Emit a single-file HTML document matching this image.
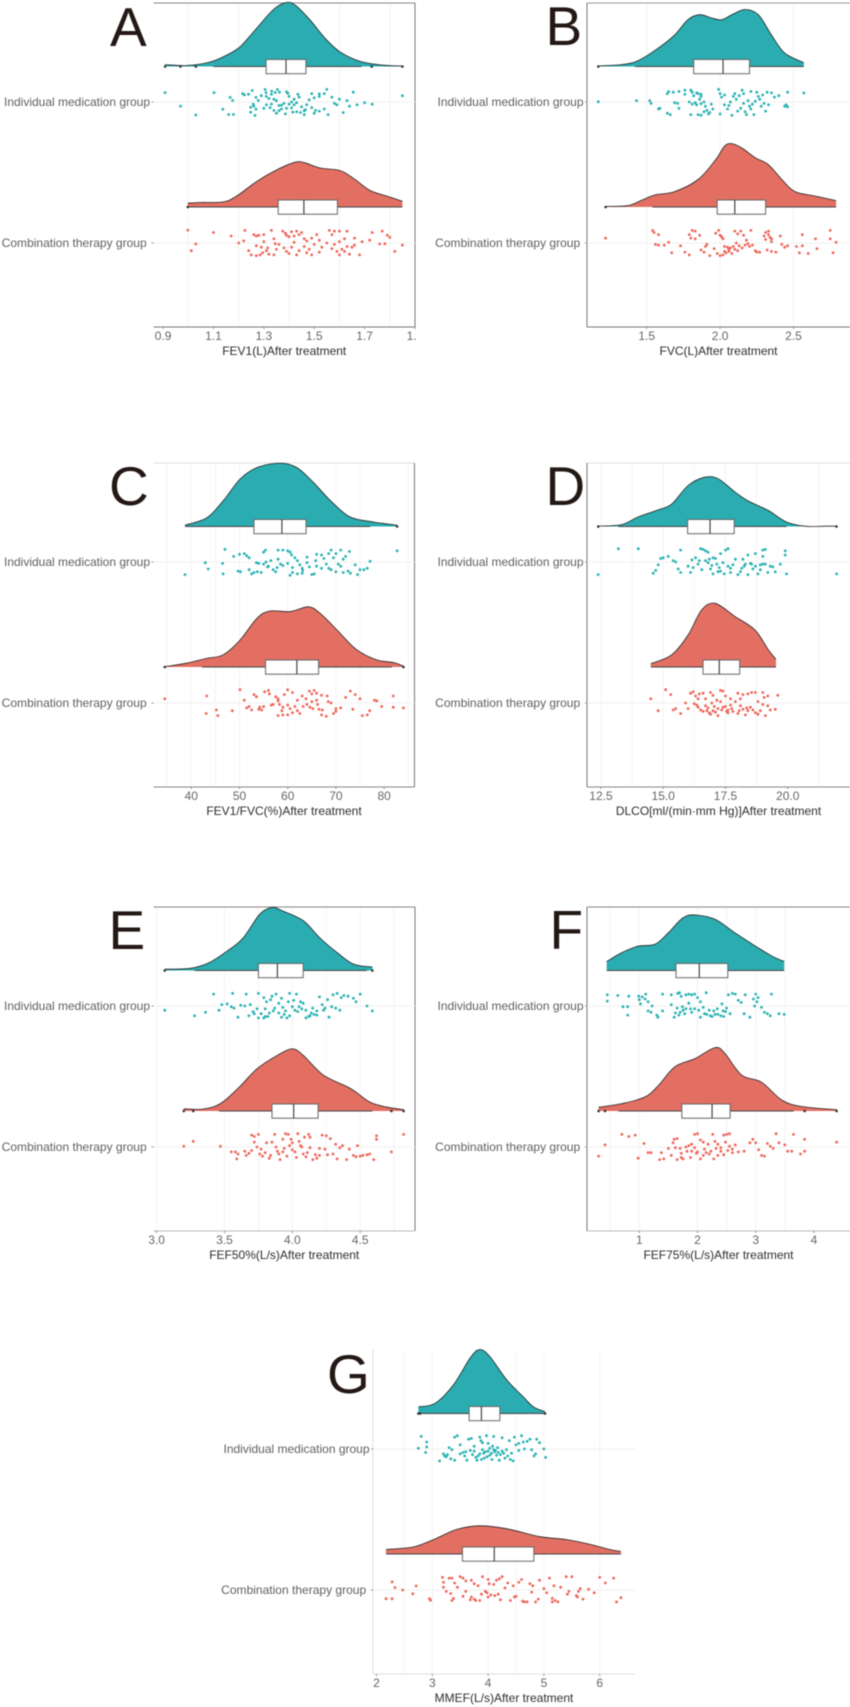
<!DOCTYPE html>
<html lang="en">
<head>
<meta charset="utf-8">
<title>Raincloud plots of lung function after treatment</title>
<style>
  html,body{margin:0;padding:0;background:#fff;width:850px;height:1707px;overflow:hidden}
  #figure{display:block;filter:blur(.4px)}
  text{font-family:"Liberation Sans",sans-serif}
</style>
</head>
<body>
<svg id="figure" xmlns="http://www.w3.org/2000/svg" width="850" height="1707" viewBox="0 0 850 1707"></svg>
<script>
/* ---------- shared category labels ---------- */
const categories = ['Individual medication group','Combination therapy group'];

/* ---------- Panel A ---------- */
const aTicks=[0.9,1.1,1.3,1.5,1.7,1.9];
const aTickLabels=['0.9','1.1','1.3','1.5','1.7','1.9'];
const aGrid=[1.0,1.2,1.4,1.6,1.8];
const aTealDensX=[.908,.994,1.087,1.153,1.206,1.272,1.338,1.388,1.424,1.483,1.543,1.602,1.682,1.775,1.85];
const aTealDens=[.03,.015,.07,.18,.31,.60,.89,1.0,.96,.73,.44,.23,.08,.02,.01];
const aRedDensX=[.998,1.047,1.139,1.192,1.272,1.351,1.424,1.463,1.523,1.602,1.655,1.721,1.788,1.85];
const aRedDens=[.06,.07,.08,.17,.40,.58,.70,.69,.61,.57,.45,.26,.17,.09];
const aTealBox=[1.309,1.388,1.467], aTealWhisk=[1.10,1.688], aTealOut=[.908,.969,1.03,1.728,1.85];
const aRedBox=[1.357,1.459,1.592], aRedWhisk=[1.0,1.85], aRedOut=[.998];
const aTealPts=[[.908,-.67],[.969,.29],[1.03,.93],[1.102,-.67],[1.137,.51],[1.16,.89],[1.179,.89],[1.166,-.33],[1.176,-.11],[1.216,-.6],[1.223,-.51],[1.239,-.56],[1.254,-.82],[1.248,.38],[1.248,.73],[1.265,.96],[1.269,-.33],[1.258,.16],[1.269,.51],[1.278,-.11],[1.305,-.89],[1.309,-.67],[1.331,-.78],[1.354,-.89],[1.362,-.7],[1.31,-.4],[1.32,-.25],[1.35,-.1],[1.31,.2],[1.33,.15],[1.36,.25],[1.38,.1],[1.3,.45],[1.35,.8],[1.385,.85],[1.34,.6],[1.37,.5],[1.39,-.73],[1.395,-.62],[1.40,-.4],[1.42,-.2],[1.435,-.55],[1.44,-.35],[1.41,.0],[1.42,.2],[1.39,.45],[1.43,.7],[1.445,.75],[1.46,.9],[1.465,.55],[1.47,.2],[1.49,-.6],[1.50,-.3],[1.52,-.58],[1.52,-.4],[1.49,.4],[1.505,.6],[1.50,.8],[1.52,.65],[1.54,.5],[1.55,-.9],[1.54,-.6],[1.57,-.35],[1.58,.1],[1.555,.9],[1.59,.2],[1.60,-.2],[1.615,.75],[1.63,-.1],[1.64,.3],[1.655,-.7],[1.67,.2],[1.70,.05],[1.73,.16],[1.85,-.45],[1.33,-.55],[1.345,-.68],[1.37,.22],[1.41,.42],[1.46,.62],[1.29,-.45],[1.34,-.2],[1.4,.15],[1.43,.05],[1.45,.35],[1.48,-.15],[1.36,.62],[1.26,.3],[1.415,.72],[1.325,.4]];
const aRedPts=[[.998,-.92],[1.012,.55],[1.03,.07],[1.10,-.75],[1.17,-.5],[1.20,.0],[1.225,-.9],[1.22,-.15],[1.24,.55],[1.26,-.6],[1.27,-.5],[1.28,-.55],[1.30,-.6],[1.33,-.9],[1.25,.85],[1.27,.9],[1.285,.85],[1.29,.3],[1.295,.7],[1.27,.2],[1.315,.35],[1.32,.8],[1.34,.85],[1.345,.05],[1.36,.1],[1.375,-.85],[1.385,-.7],[1.39,-.55],[1.40,-.45],[1.41,-.8],[1.43,-.85],[1.44,-.6],[1.42,-.5],[1.46,-.3],[1.47,-.15],[1.49,-.35],[1.51,-.6],[1.52,-.2],[1.39,.6],[1.40,.75],[1.41,.3],[1.43,.85],[1.44,.55],[1.47,.7],[1.49,.85],[1.52,.65],[1.53,.3],[1.56,-.9],[1.58,-.85],[1.57,-.6],[1.60,-.85],[1.63,-.85],[1.55,.0],[1.58,.1],[1.60,-.1],[1.62,-.3],[1.66,-.35],[1.61,.45],[1.63,.25],[1.64,.8],[1.60,.85],[1.62,.6],[1.66,.15],[1.68,.85],[1.69,-.1],[1.72,-.2],[1.73,-.75],[1.76,.07],[1.78,.05],[1.77,-.85],[1.79,-.55],[1.80,-.4],[1.82,.6],[1.85,.15],[1.46,.25],[1.35,.45],[1.31,.55],[1.38,.35],[1.42,-.05],[1.45,-.75],[1.5,.1],[1.59,.6],[1.65,.3],[1.3,-.1],[1.34,-.3],[1.48,.45],[1.57,.4]];

/* ---------- Panel B ---------- */
const bTicks=[1.5,2.0,2.5];
const bTickLabels=['1.5','2.0','2.5'];
const bGrid=[1.5,2.0,2.5];
const bTealDensX=[1.17,1.33,1.44,1.58,1.69,1.78,1.86,1.94,2.01,2.09,2.17,2.26,2.35,2.44,2.57];
const bTealDens=[.01,.03,.09,.29,.49,.73,.81,.76,.73,.82,.89,.81,.49,.21,.06];
const bRedDensX=[1.22,1.37,1.47,1.56,1.69,1.85,1.97,2.03,2.08,2.15,2.24,2.33,2.42,2.51,2.65,2.79];
const bRedDens=[.01,.02,.11,.19,.24,.43,.74,.95,.99,.92,.77,.66,.43,.24,.17,.10];
const bTealBox=[1.82,2.02,2.20], bTealWhisk=[1.42,2.57], bTealOut=[1.17];
const bRedBox=[1.98,2.10,2.31], bRedWhisk=[1.54,2.79], bRedOut=[1.22];
const bTealPts=[[1.17,-.02],[1.43,-.1],[1.52,-.1],[1.53,.1],[1.58,.5],[1.59,.45],[1.64,.8],[1.66,.9],[1.64,-.6],[1.65,-.75],[1.68,-.7],[1.72,-.75],[1.76,-.85],[1.76,-.55],[1.69,.05],[1.71,.1],[1.72,.45],[1.80,-.85],[1.81,-.7],[1.82,-.45],[1.84,-.65],[1.85,-.6],[1.87,-.55],[1.87,-.4],[1.79,.0],[1.81,.15],[1.84,.2],[1.87,.12],[1.89,.0],[1.90,.3],[1.80,.9],[1.85,.9],[1.87,.95],[1.92,.85],[1.93,.75],[1.91,.6],[1.95,.5],[1.99,-.9],[2.0,-.6],[2.01,-.35],[2.03,-.5],[2.0,.85],[2.03,.2],[2.05,.5],[2.07,.0],[2.09,-.4],[2.11,-.2],[2.13,-.45],[2.15,-.85],[2.10,-.6],[2.08,.95],[2.14,.45],[2.16,.1],[2.19,-.1],[2.2,.3],[2.17,.7],[2.21,.5],[2.18,.9],[2.21,-.75],[2.25,-.7],[2.27,-.2],[2.29,-.5],[2.3,.1],[2.31,.65],[2.33,.2],[2.32,-.7],[2.35,-.65],[2.37,-.35],[2.40,-.45],[2.44,.3],[2.46,.35],[2.46,-.7],[2.45,.2],[2.57,-.65],[2.23,.9],[2.24,-.05],[1.83,.05],[1.86,-.2],[1.89,.7],[1.94,.15],[2.06,.25],[2.12,.65],[2.16,-.6],[2.22,.15],[2.28,.3],[2.26,-.4]];
const bRedPts=[[1.22,-.35],[1.54,-.9],[1.55,-.75],[1.58,-.6],[1.56,.1],[1.58,.15],[1.62,.15],[1.67,.7],[1.65,-.05],[1.73,.2],[1.76,.65],[1.79,.85],[1.79,-.6],[1.81,-.9],[1.83,-.85],[1.80,-.35],[1.83,-.3],[1.86,-.55],[1.87,.5],[1.91,.1],[1.90,.25],[1.89,.65],[1.93,.9],[1.97,-.7],[1.99,-.9],[2.0,-.55],[2.01,-.45],[2.02,-.3],[2.0,.9],[2.02,.85],[2.03,.25],[2.05,.3],[2.06,.6],[2.08,.75],[2.1,-.85],[2.12,-.65],[2.14,-.85],[2.16,-.55],[2.18,-.2],[2.11,.0],[2.13,.2],[2.15,.35],[2.19,.05],[2.22,.15],[2.21,-.9],[2.24,.55],[2.25,.65],[2.27,.65],[2.06,.45],[2.09,.25],[2.12,.55],[2.31,-.75],[2.33,-.85],[2.33,-.6],[2.31,-.25],[2.35,-.3],[2.35,-.1],[2.32,.5],[2.35,.6],[2.38,.65],[2.42,.1],[2.44,.3],[2.41,-.5],[2.46,.2],[2.52,.25],[2.54,.7],[2.56,-.6],[2.56,.2],[2.6,.75],[2.65,-.3],[2.66,.4],[2.75,-.9],[2.75,-.3],[2.77,.7],[2.79,-.05],[1.96,.4],[2.04,.7],[2.07,.35],[2.1,.45],[2.17,.15],[2.2,.25],[2.3,-.5],[2.34,-.4],[2.03,.6],[1.98,.75]];

/* ---------- Panel C ---------- */
const cTicks=[40,50,60,70,80];
const cTickLabels=['40','50','60','70','80'];
const cGrid=[35,40,45,50,60,70,75,85];
const cTealDensX=[38.7,43.2,46.6,50.1,53.6,58.4,61.9,65.3,68.8,72.9,77.8,82.7];
const cTealDens=[.02,.135,.40,.74,.92,.99,.92,.69,.41,.15,.07,.02];
const cRedDensX=[34.5,39,43.2,46.6,50.1,53.6,56.3,60.5,64.3,66.7,70.2,74.3,78.5,81.9,84];
const cRedDens=[.005,.06,.135,.19,.42,.76,.875,.865,.94,.84,.58,.27,.11,.07,.015];
const cTealBox=[53,58.8,63.8], cTealWhisk=[38.7,77.1], cTealOut=[82.7];
const cRedBox=[55.4,61.9,66.4], cRedWhisk=[42.2,81.6], cRedOut=[34.5,84];
const cTealPts=[[38.7,.9],[42.9,.05],[43.5,.5],[46.5,.1],[46.6,.85],[47,-.9],[48.8,-.4],[50,-.55],[49.7,.65],[50.2,.7],[51,-.6],[51.5,-.45],[52,-.3],[52.5,.85],[53,.75],[53.7,.7],[54.5,.75],[55,-.7],[55.4,-.85],[53.5,.05],[55.5,.0],[56.5,-.1],[57,.55],[57.5,.7],[58,-.85],[59,-.85],[60,-.8],[60.5,-.7],[60.8,-.5],[61.5,-.3],[59,.25],[60,.1],[61,.4],[62,.85],[62.5,.2],[63.1,.6],[64,.05],[65,.9],[65.5,.85],[65.8,-.1],[66,.3],[67,-.5],[67.5,-.25],[68,.15],[69,-.85],[70,-.6],[71,-.85],[72,-.4],[72.8,-.75],[71,.3],[73,.8],[74,.2],[75,.55],[74.5,.9],[71.5,-.2],[70.5,.15],[69.5,-.3],[68.5,-.6],[77.1,-.05],[76.5,.45],[75.8,.55],[82.7,-.8],[57.8,.4],[58.5,.15],[63,.45],[64.5,.35],[69,.55],[68.5,.45],[70,.7],[71.5,.75],[72.5,.65],[55.8,.35],[52,.55],[60.5,.95],[54,.1],[55,.15],[56,.3],[58,-.2],[62,-.1],[64,-.35],[66,-.55],[67,.45],[63,.8],[61,.75]];
const cRedPts=[[34.5,-.3],[43.2,-.5],[43.1,.75],[45.2,.5],[45.5,.9],[48.5,.55],[50.1,-.95],[51,-.2],[51.5,.35],[52.5,.5],[53,-.6],[53.5,-.45],[54,.45],[54.6,.5],[55.2,-.8],[56,-.9],[57.5,-.45],[58,-.3],[58.3,.1],[59,.3],[60,-.95],[61,-.75],[58,.9],[59,.85],[60,.85],[61,.7],[62,.55],[63.2,.25],[64,.1],[64.5,-.85],[65.5,-.9],[66,-.2],[66.5,.45],[67,.85],[68,.95],[69.5,.75],[70,.6],[71,.35],[72,-.4],[73,-.85],[74,-.6],[75,-.3],[75.5,.9],[76.5,.85],[77,.55],[78,-.2],[78.5,-.15],[79.5,.25],[73.5,.45],[81.9,.3],[81.9,-.5],[84,.35],[70,.4],[69,.0],[68.2,-.5],[67,-.55],[66,-.7],[65,-.65],[63,-.5],[62.5,.75],[61.5,.25],[60.5,.4],[59.3,-.6],[58,-.15],[56.6,.15],[55,.25],[54.2,.3],[52,.25],[56.2,-.65],[57,.1],[58.8,.55],[60,.15],[62,-.2],[64.6,.3],[65.2,.4],[66.2,.1],[67.2,.5],[68.4,-.1],[63.8,-.3],[65,-.1]];

/* ---------- Panel D ---------- */
const dTicks=[12.5,15,17.5,20];
const dTickLabels=['12.5','15.0','17.5','20.0'];
const dGrid=[12.5,13.75,15,16.25,17.5,18.75,21.25];
const dTealDensX=[12.39,13.33,14.0,14.8,15.34,16.0,16.67,17.21,17.88,18.41,19.22,19.95,20.69,21.49,21.96];
const dTealDens=[.005,.03,.15,.26,.35,.64,.77,.745,.54,.40,.25,.07,.005,.005,.005];
const dRedDensX=[14.5,15.34,16,16.54,17.08,17.88,18.68,19.22,19.53];
const dRedDens=[.05,.19,.5,.89,.995,.79,.58,.27,.12];
const dTealBox=[15.98,16.88,17.85], dTealWhisk=[13.2,19.95], dTealOut=[12.39,21.96];
const dRedBox=[16.6,17.25,18.07], dRedWhisk=[14.5,19.53], dRedOut=[];
const dTealPts=[[12.39,.9],[13.2,-.95],[14.0,-.95],[14.6,.8],[14.7,.6],[14.8,.2],[14.9,-.25],[15.0,-.3],[15.2,-.4],[15.4,-.1],[15.5,.0],[15.6,.5],[15.7,.75],[15.7,-.85],[16.1,.75],[16.2,.4],[16.4,.15],[16.45,-.1],[16.5,-.95],[16.6,-.9],[16.7,-.8],[16.8,-.7],[16.7,-.1],[16.8,.05],[16.95,.25],[17.0,-.3],[17.1,-.25],[17.2,.7],[17.3,-.6],[17.45,.85],[17.5,-.85],[17.6,-.95],[17.7,.45],[17.8,.2],[17.9,-.2],[18.0,.9],[18.1,.7],[18.15,.45],[18.2,-.2],[18.3,.15],[18.4,-.5],[18.5,.1],[18.6,.5],[18.7,-.6],[18.8,.85],[18.9,.55],[19.0,-.85],[19.1,-.9],[19.2,.75],[19.4,.35],[19.5,.7],[19.7,.15],[19.9,-.5],[19.95,.85],[19.9,-.8],[19.1,.15],[19.0,-.4],[21.96,.85],[16.9,.5],[17.0,.85],[17.3,.65],[17.6,.3],[17.7,.75],[18.4,.9],[19.0,.15],[19.3,.3],[18.9,.2],[16.55,.55],[16.3,-.3],[16.0,.3],[16.15,-.15],[16.85,-.2],[17.15,.15],[17.4,.05],[17.25,.4],[18.25,.3],[18.55,.15],[18.7,.3]];
const dRedPts=[[14.5,-.3],[14.8,.55],[15.1,-.95],[15.3,-.6],[15.5,.4],[15.7,.75],[15.4,.5],[15.9,.0],[16.0,.4],[16.1,-.7],[16.2,-.8],[16.3,-.5],[16.4,-.3],[16.6,-.7],[16.7,-.3],[16.7,.2],[16.8,.35],[16.9,-.75],[16.95,.0],[17.0,.55],[17.1,.65],[17.2,.9],[17.3,-.9],[17.4,-.85],[17.5,-.5],[17.5,.25],[17.6,.7],[17.7,-.3],[17.8,.6],[17.9,-.1],[18.0,-.7],[18.1,.2],[18.2,.45],[18.2,-.6],[18.3,.85],[18.4,-.65],[18.5,.3],[18.6,.5],[18.7,.7],[18.8,-.1],[18.9,.55],[19.0,-.75],[19.1,.9],[19.2,-.5],[19.3,.5],[19.5,.45],[19.6,-.55],[16.4,.3],[16.5,.5],[16.6,.6],[16.9,.8],[17.2,.4],[17.4,.3],[17.6,.5],[18.0,.75],[18.4,.55],[18.55,-.75],[18.7,-.75],[18.8,.8],[19.0,.1],[19.05,-.4],[19.2,.2],[17.0,-.55],[17.15,-.2],[17.3,-.1],[17.7,.15],[18.1,-.3],[16.25,.05],[16.35,.15],[16.45,-.65],[16.75,.55],[16.85,.7],[17.05,.25],[17.35,.5],[17.55,.6],[17.75,.4],[18.05,.55],[18.35,.35]];

/* ---------- Panel E ---------- */
const eTicks=[3.0,3.5,4.0,4.5];
const eTickLabels=['3.0','3.5','4.0','4.5'];
const eGrid=[3.0,3.5,3.75,4.0,4.25,4.5,4.75];
const eTealDensX=[3.06,3.25,3.39,3.54,3.64,3.76,3.85,3.93,4.08,4.2,4.33,4.45,4.59];
const eTealDens=[.02,.035,.125,.335,.515,.88,.985,.93,.78,.515,.28,.10,.055];
const eRedDensX=[3.2,3.34,3.47,3.61,3.74,3.89,4.0,4.08,4.23,4.43,4.57,4.7,4.82];
const eRedDens=[.035,.03,.115,.375,.66,.87,.97,.87,.56,.35,.14,.06,.02];
const eTealBox=[3.75,3.89,4.08], eTealWhisk=[3.28,4.55], eTealOut=[3.06,4.59];
const eRedBox=[3.85,4.01,4.19], eRedWhisk=[3.46,4.59], eRedOut=[3.2,3.27,4.73,4.82];
const eTealPts=[[3.06,.3],[3.28,.7],[3.36,.45],[3.42,-.85],[3.46,.3],[3.48,-.1],[3.52,-.15],[3.55,.05],[3.57,.15],[3.56,-.9],[3.6,.8],[3.62,-.05],[3.66,-.85],[3.65,.0],[3.69,-.1],[3.71,.4],[3.72,.55],[3.75,.85],[3.75,-.9],[3.79,-.6],[3.81,-.3],[3.83,.5],[3.79,.85],[3.8,.75],[3.85,-.7],[3.88,-.85],[3.9,-.2],[3.92,-.55],[3.93,.1],[3.92,.8],[3.96,.85],[3.98,-.9],[4.01,-.4],[4.02,.3],[4.03,-.85],[4.05,.05],[4.07,.2],[4.08,-.2],[4.1,.85],[4.12,.75],[4.14,.5],[4.16,.6],[4.18,.35],[4.2,-.65],[4.22,-.1],[4.24,.15],[4.27,.8],[4.29,.05],[4.3,-.8],[4.33,-.9],[4.36,-.6],[4.35,.3],[4.38,-.75],[4.41,-.7],[4.45,-.55],[4.47,-.3],[4.5,-.85],[4.55,.0],[4.59,.35],[3.94,.6],[4.0,.05],[4.06,-.3],[3.86,.35],[3.74,.2],[3.68,.7],[4.15,.15],[4.23,.3],[3.95,.35],[3.8,.2],[3.9,.5],[3.98,.7],[4.32,.15],[4.13,.7],[3.77,.55],[3.82,.75],[3.84,-.45],[3.87,.15],[3.97,-.3],[4.04,.4],[4.1,.3],[4.18,.65],[4.26,-.45]];
const eRedPts=[[3.2,-.05],[3.27,-.4],[3.47,-.05],[3.55,.35],[3.58,.35],[3.59,.85],[3.65,.3],[3.68,.45],[3.7,-.85],[3.72,-.75],[3.75,-.9],[3.72,-.35],[3.74,.0],[3.76,.5],[3.78,.65],[3.8,.4],[3.83,.8],[3.85,-.35],[3.87,-.9],[3.88,.0],[3.9,.5],[3.91,.9],[3.93,-.55],[3.95,-.95],[3.97,-.9],[3.98,-.1],[4.0,.2],[4.02,.35],[4.04,-.95],[4.05,-.4],[4.06,-.1],[4.08,.5],[4.1,.7],[4.12,-.9],[4.13,-.7],[4.15,.9],[4.18,.8],[4.2,.1],[4.22,-.85],[4.25,-.8],[4.28,-.6],[4.3,.5],[4.32,-.2],[4.33,.85],[4.37,-.1],[4.42,.15],[4.45,.6],[4.47,.7],[4.5,.65],[4.52,.6],[4.55,.55],[4.57,.5],[4.6,.9],[4.62,-.8],[4.73,.35],[4.82,-.9],[4.62,-.55],[3.81,-.3],[3.93,.35],[4.0,-.3],[4.07,.0],[4.13,.05],[4.24,.15],[4.35,.05],[4.4,.9],[4.48,-.1],[3.6,.5],[3.84,.6],[3.96,.65],[3.7,.25],[4.09,-.7],[4.17,.55],[3.99,-.55],[3.66,.6],[3.77,.15],[3.89,.3],[3.94,.1],[4.03,.75],[4.11,.4],[4.2,.6],[4.26,.55]];

/* ---------- Panel F ---------- */
const fTicks=[1,2,3,4];
const fTickLabels=['1','2','3','4'];
const fGrid=[.5,1,2,2.5,3,3.5];
const fTealDensX=[.44,.7,.98,1.27,1.5,1.76,1.99,2.3,2.64,2.99,3.27,3.49];
const fTealDens=[.14,.28,.38,.41,.59,.83,.865,.80,.59,.385,.23,.14];
const fRedDensX=[.3,.7,1.1,1.33,1.61,1.96,2.3,2.47,2.76,3.1,3.45,3.79,4.39];
const fRedDens=[.06,.115,.22,.40,.69,.82,.99,.90,.56,.45,.17,.07,.02];
const fTealBox=[1.63,2.03,2.52], fTealWhisk=[.44,3.49], fTealOut=[];
const fRedBox=[1.73,2.25,2.56], fRedWhisk=[.64,3.65], fRedOut=[.3,.41,3.84,4.39];
const fTealPts=[[.45,-.8],[.45,-.35],[.63,-.75],[.72,.05],[.8,.05],[.8,.65],[.82,-.7],[.99,-.7],[1.0,-.45],[1.02,-.15],[1.05,-.65],[1.11,-.85],[1.1,-.5],[1.15,-.3],[1.15,.35],[1.2,.45],[1.22,.0],[1.3,.65],[1.32,.8],[1.4,-.85],[1.55,-.8],[1.6,.8],[1.55,-.1],[1.66,-.9],[1.69,-.95],[1.72,-.7],[1.65,.15],[1.7,.45],[1.75,.3],[1.8,-.8],[1.85,-.85],[1.9,-.8],[1.95,-.85],[1.85,-.2],[1.8,.2],[1.9,.45],[1.95,.2],[2.0,-.6],[2.05,.8],[2.1,.1],[2.15,-.95],[2.22,.7],[2.25,.75],[2.3,.6],[2.35,.6],[2.4,.7],[2.42,-.15],[2.45,.75],[2.48,.4],[2.53,-.8],[2.6,-.9],[2.65,-.85],[2.7,-.4],[2.75,-.25],[2.8,.55],[2.82,-.8],[2.9,.8],[3.15,.45],[3.2,.55],[3.25,.7],[3.4,.55],[3.49,.6],[3.27,-.85],[3.1,.1],[3.0,-.85],[3.04,-.6],[3.02,-.3],[2.96,-.5],[1.78,.55],[2.12,.55],[2.2,.3],[2.05,-.3],[1.4,.35],[2.5,.15],[2.98,.0],[1.62,.5],[1.68,.65],[1.74,.05],[1.88,.2],[2.02,.3],[2.16,.6],[2.28,.35],[2.34,.2],[2.44,.35],[2.56,.55]];
const fRedPts=[[.3,.65],[.41,-.15],[.7,-.9],[.82,-.75],[.93,-.85],[.98,.8],[1.08,-.25],[1.15,.4],[1.2,.4],[1.35,.9],[1.38,.4],[1.42,.85],[1.5,.1],[1.55,.6],[1.58,-.3],[1.6,-.55],[1.65,-.6],[1.65,.9],[1.7,.1],[1.72,.45],[1.75,.85],[1.8,.0],[1.85,-.1],[1.88,.75],[1.9,.3],[1.95,-.9],[2.0,-.95],[2.0,.35],[2.05,-.5],[2.1,-.35],[2.15,.4],[2.2,.5],[2.23,.3],[2.26,-.9],[2.3,-.4],[2.35,-.2],[2.4,.05],[2.45,-.85],[2.5,-.9],[2.55,-.95],[2.6,.15],[2.65,-.15],[2.7,.35],[2.8,.3],[2.9,-.3],[2.95,-.55],[3.0,-.3],[3.05,.2],[3.1,.6],[3.15,.65],[3.2,-.25],[3.25,-.05],[3.3,.1],[3.35,-.95],[3.4,-.3],[3.5,-.15],[3.55,.3],[3.65,-.9],[3.77,.5],[3.84,-.55],[3.84,.3],[4.39,-.35],[3.62,.3],[2.35,.6],[2.45,.55],[2.4,.3],[2.55,-.05],[2.28,.85],[2.1,.6],[1.62,.05],[1.95,.05],[1.72,.75],[2.52,.25],[2.05,.85],[1.82,.3],[1.9,-.2],[1.98,.45],[2.12,.15],[2.18,-.2],[2.32,.1],[2.48,-.35],[2.6,.4]];

/* ---------- Panel G ---------- */
const gTicks=[2,3,4,5,6];
const gTickLabels=['2','3','4','5','6'];
const gGrid=[2.5,3,4,4.5,5,6];
const gTealDensX=[2.75,3.05,3.38,3.68,3.85,4.03,4.33,4.63,4.81,5.02];
const gTealDens=[.105,.16,.45,.87,1.0,.89,.53,.26,.105,.03];
const gRedDensX=[2.17,2.66,3.02,3.44,3.85,4.33,4.93,5.41,5.83,6.18,6.38];
const gRedDens=[.07,.11,.225,.385,.44,.395,.27,.225,.15,.07,.04];
const gTealBox=[3.66,3.88,4.21], gTealWhisk=[2.75,5.02], gTealOut=[2.75,2.78,5.02];
const gRedBox=[3.54,4.11,4.82], gRedWhisk=[2.17,6.38], gRedOut=[];
const gTealPts=[[2.75,-.05],[2.8,-.9],[2.9,-.5],[2.9,-.15],[2.88,.25],[3.13,.85],[3.2,.35],[3.22,.5],[3.25,.55],[3.27,.4],[3.3,-.1],[3.35,.05],[3.33,.7],[3.4,.8],[3.4,-.85],[3.45,-.95],[3.5,-.3],[3.5,.35],[3.55,.25],[3.58,.5],[3.62,.8],[3.65,-.7],[3.7,-.75],[3.75,-.2],[3.75,.15],[3.78,.6],[3.8,.8],[3.85,-.85],[3.87,-.6],[3.9,.05],[3.92,.3],[3.93,.65],[3.97,-.95],[4.0,-.4],[4.0,.15],[4.03,.45],[4.07,.75],[4.1,-.9],[4.13,.1],[4.17,-.1],[4.2,.8],[4.22,.4],[4.25,-.8],[4.28,.3],[4.3,.65],[4.33,.05],[4.38,-.6],[4.4,.75],[4.45,.85],[4.47,-.85],[4.5,-.3],[4.55,.1],[4.6,-.95],[4.63,-.5],[4.65,.0],[4.7,-.55],[4.75,-.7],[4.78,.05],[4.82,.5],[4.85,.35],[4.87,-.7],[4.92,-.45],[5.0,0],[5.03,.6],[3.95,.2],[3.85,.35],[3.6,.2],[4.08,-.2],[4.15,.45],[4.35,.5],[3.88,.75],[4.03,-.05],[4.12,.2],[4.55,-.4],[3.72,.4],[3.82,.5],[3.98,.55],[4.06,.3],[4.1,.05],[4.18,.25],[4.25,.15],[4.42,.3],[3.68,.1],[3.9,-.45]];
const gRedPts=[[2.17,.62],[2.28,.62],[2.28,-.58],[2.33,-.18],[2.47,0],[2.65,.27],[2.71,-.29],[2.95,.62],[2.97,.73],[3.18,-.9],[3.2,-.55],[3.2,-.2],[3.25,.1],[3.3,-.85],[3.35,-.85],[3.33,.25],[3.38,.6],[3.35,.75],[3.4,-.5],[3.45,-.2],[3.5,-.95],[3.55,-.85],[3.55,.45],[3.6,-.65],[3.7,-.7],[3.7,.5],[3.75,-.45],[3.78,.75],[3.82,-.3],[3.85,.75],[3.9,-.95],[3.95,.1],[3.98,.2],[4.0,-.75],[4.02,-.45],[4.05,.35],[4.1,-.4],[4.12,.4],[4.15,-.7],[4.18,.3],[4.2,-.8],[4.22,.7],[4.25,-.95],[4.3,-.15],[4.4,.75],[4.45,-.3],[4.47,.5],[4.5,.45],[4.55,-.55],[4.6,-.75],[4.62,.8],[4.7,.85],[4.75,-.45],[4.78,.15],[4.8,-.3],[4.85,.85],[4.9,.65],[4.92,-.7],[5.0,-.1],[5.05,.2],[5.1,-.85],[5.15,.6],[5.2,.75],[5.25,.85],[5.3,-.2],[5.4,-.95],[5.5,-.95],[5.58,.4],[5.62,.1],[5.7,.65],[5.8,-.05],[5.9,.2],[6.0,-.9],[6.1,-.5],[6.25,-.85],[6.3,.85],[6.38,.55],[5.6,.5],[5.65,-.1],[5.42,.3],[5.45,.1],[3.6,.1],[3.68,.7],[3.75,.65],[3.88,.3],[4.0,.5],[4.35,-.5],[4.65,.85],[5.15,.85],[5.18,-.3]];

/* ---------- colours and panel layout ---------- */
const TEAL='#2aacb0', RED='#e36f63', TEALDOT='#28b1b2', REDDOT='#ee6559';
const LETTER='#231815';
const panels=[
 {id:'a',letter:'A',lx:110,ly:46,title:'FEV1(L)After treatment',left:153.5,right:415,top:3,lim:[.862,1.9],ticks:aTicks,labels:aTickLabels,grid:aGrid,sides:{top:'#888',right:'#777',bottom:'#777'},
  s:[[aTealDensX,aTealDens,aTealBox,aTealWhisk,aTealOut,aTealPts],[aRedDensX,aRedDens,aRedBox,aRedWhisk,aRedOut,aRedPts]]},
 {id:'b',letter:'B',lx:545.5,ly:45,title:'FVC(L)After treatment',left:587,right:850,top:3,lim:[1.093,2.885],ticks:bTicks,labels:bTickLabels,grid:bGrid,sides:{top:'#999',left:'#777',bottom:'#777'},
  s:[[bTealDensX,bTealDens,bTealBox,bTealWhisk,bTealOut,bTealPts],[bRedDensX,bRedDens,bRedBox,bRedWhisk,bRedOut,bRedPts]]},
 {id:'c',letter:'C',lx:109,ly:505,title:'FEV1/FVC(%)After treatment',left:153.5,right:414.5,top:463,lim:[32.16,86.3],ticks:cTicks,labels:cTickLabels,grid:cGrid,sides:{top:'#ddd',right:'#777',bottom:'#888'},
  s:[[cTealDensX,cTealDens,cTealBox,cTealWhisk,cTealOut,cTealPts],[cRedDensX,cRedDens,cRedBox,cRedWhisk,cRedOut,cRedPts]]},
 {id:'d',letter:'D',lx:545.5,ly:505,title:'DLCO[ml/(min·mm Hg)]After treatment',left:587,right:850,top:463,lim:[11.94,22.5],ticks:dTicks,labels:dTickLabels,grid:dGrid,sides:{top:'#ddd',left:'#777',bottom:'#888'},
  s:[[dTealDensX,dTealDens,dTealBox,dTealWhisk,dTealOut,dTealPts],[dRedDensX,dRedDens,dRedBox,dRedWhisk,dRedOut,dRedPts]]},
 {id:'e',letter:'E',lx:108.5,ly:949,title:'FEF50%(L/s)After treatment',left:153.5,right:415,top:907,lim:[2.977,4.904],ticks:eTicks,labels:eTickLabels,grid:eGrid,sides:{top:'#888',right:'#777',bottom:'#bbb'},
  s:[[eTealDensX,eTealDens,eTealBox,eTealWhisk,eTealOut,eTealPts],[eRedDensX,eRedDens,eRedBox,eRedWhisk,eRedOut,eRedPts]]},
 {id:'f',letter:'F',lx:549.5,ly:949,title:'FEF75%(L/s)After treatment',left:587,right:850,top:907,lim:[.101,4.62],ticks:fTicks,labels:fTickLabels,grid:fGrid,sides:{top:'#888',left:'#777',bottom:'#bbb'},
  s:[[fTealDensX,fTealDens,fTealBox,fTealWhisk,fTealOut,fTealPts],[fRedDensX,fRedDens,fRedBox,fRedWhisk,fRedOut,fRedPts]]},
 {id:'g',letter:'G',lx:327,ly:1393,title:'MMEF(L/s)After treatment',left:373,right:635,top:1350,lim:[1.937,6.632],ticks:gTicks,labels:gTickLabels,grid:gGrid,sides:{left:'#ddd',bottom:'#ddd'},
  s:[[gTealDensX,gTealDens,gTealBox,gTealWhisk,gTealOut,gTealPts],[gRedDensX,gRedDens,gRedBox,gRedWhisk,gRedOut,gRedPts]]}
];

const NS='http://www.w3.org/2000/svg';
const root=document.getElementById('figure');
function mk(tag,attrs,parent,txt){
  const e=document.createElementNS(NS,tag);
  for(const k in attrs) e.setAttribute(k,attrs[k]);
  if(txt!==undefined) e.textContent=txt;
  parent.appendChild(e);
  return e;
}
function smooth(pts){
  let d='';
  for(let i=0;i<pts.length-1;i++){
    const p0=pts[Math.max(i-1,0)],p1=pts[i],p2=pts[i+1],p3=pts[Math.min(i+2,pts.length-1)];
    const c1=[p1[0]+(p2[0]-p0[0])/6,p1[1]+(p2[1]-p0[1])/6];
    const c2=[p2[0]-(p3[0]-p1[0])/6,p2[1]-(p3[1]-p1[1])/6];
    d+=`C${c1[0].toFixed(1)} ${c1[1].toFixed(1)} ${c2[0].toFixed(1)} ${c2[1].toFixed(1)} ${p2[0].toFixed(1)} ${p2[1].toFixed(1)}`;
  }
  return d;
}

panels.forEach(function(p){
  const bottom=p.top+324;
  const x=function(v){return p.left+(v-p.lim[0])/(p.lim[1]-p.lim[0])*(p.right-p.left);};
  const g=mk('g',{},root);
  
  

  /* gridlines */
  const gg=mk('g',{},g);
  
  
  p.grid.forEach(function(v){
    mk('line',{x1:x(v),x2:x(v),y1:p.top,y2:bottom,stroke:'#f3f3f3','stroke-width':1},gg);
  });

  /* borders */
  const sides=p.sides;
  if(sides.top){
    const b=mk('line',{x1:p.left,x2:p.right,y1:p.top,y2:p.top,stroke:sides.top,'stroke-width':1},g);
    
    
  }
  if(sides.right){
    const b=mk('line',{x1:p.right,x2:p.right,y1:p.top,y2:bottom,stroke:sides.right,'stroke-width':1},g);
    
    
  }
  if(sides.left){
    const b=mk('line',{x1:p.left,x2:p.left,y1:p.top,y2:bottom,stroke:sides.left,'stroke-width':1},g);
    
    
  }
  if(sides.bottom){
    const b=mk('line',{x1:p.left,x2:p.right,y1:bottom,y2:bottom,stroke:sides.bottom,'stroke-width':1},g);
    
    
  }

  /* groups */
  p.s.forEach(function(s,i){
    const base=p.top+(i===0?63.5:204);
    const cat=p.top+(i===0?99:240);
    const unit=64;
    const y=function(d){return base-d*unit;};
    const fill=i===0?TEAL:RED, dot=i===0?TEALDOT:REDDOT;
    const nm=i===0?'individual':'combination';

    const hl=mk('line',{x1:p.left,x2:p.right,y1:cat,y2:cat,stroke:'#f0f0f0','stroke-width':1},g);
    
    
    const tk=mk('line',{x1:p.left-2,x2:p.left,y1:cat,y2:cat,stroke:'#777','stroke-width':.8},g);
    
    

    const labelWidth=i===0?146:145;
    const labelEnd=p.left-(i===0?3.5:6.8);
    const lb=mk('text',{x:labelEnd-labelWidth,y:cat+4,'font-size':12,fill:'#5f5f5f',textLength:labelWidth,lengthAdjust:'spacingAndGlyphs'},g,categories[i]);
    
    

    const pts=s[0].map(function(v,k){return [x(v),y(s[1][k])];});
    const curve=`M${pts[0][0].toFixed(1)} ${pts[0][1].toFixed(1)}`+smooth(pts);
    const area=mk('path',{d:curve+`L${pts[pts.length-1][0].toFixed(1)} ${base}L${pts[0][0].toFixed(1)} ${base}Z`,fill:fill},g);
    
    
    const line=mk('path',{d:curve,fill:'none',stroke:'#222','stroke-width':.8},g);
    
    

    const wh=mk('line',{x1:x(s[3][0]),x2:x(s[3][1]),y1:base,y2:base,stroke:'#444','stroke-width':1.1},g);
    
    
    s[4].forEach(function(v){
      const o=mk('circle',{cx:x(v),cy:base,r:1.3,fill:'#333'},g);
      
      
    });
    const box=mk('rect',{x:x(s[2][0]),y:base-7,width:x(s[2][2])-x(s[2][0]),height:14.2,fill:'#fff',stroke:'#666','stroke-width':1},g);
    
    
    const med=mk('line',{x1:x(s[2][1]),x2:x(s[2][1]),y1:base-7,y2:base+7.2,stroke:'#444','stroke-width':1.2},g);
    
    

    const dots=mk('g',{fill:dot},g);
    
    
    s[5].forEach(function(q){
      const c=mk('circle',{cx:x(q[0]).toFixed(1),cy:(cat+q[1]*14).toFixed(1),r:1.4},dots);
      
      
    });
  });

  /* x axis ticks and labels */
  p.ticks.forEach(function(v,k){
    const t=mk('line',{x1:x(v),x2:x(v),y1:bottom,y2:bottom+2,stroke:'#777','stroke-width':.8},g);
    
    
    const l=mk('text',{x:x(v),y:bottom+13,'text-anchor':'middle','font-size':12,fill:'#666'},g,p.labels[k]);
    
    
  });
  const ti=mk('text',{x:(p.left+p.right)/2,y:bottom+28,'text-anchor':'middle','font-size':12,fill:'#2e2e2e'},g,p.title);
  
  

  const le=mk('text',{x:p.lx,y:p.ly,'font-size':55,fill:LETTER},g,p.letter);
  
  

  if(p.id==='a'){
    const mask=mk('rect',{x:417,y:bottom+2,width:12,height:14,fill:'#fff'},g);
    
    
  }
});
</script>
</body>
</html>
